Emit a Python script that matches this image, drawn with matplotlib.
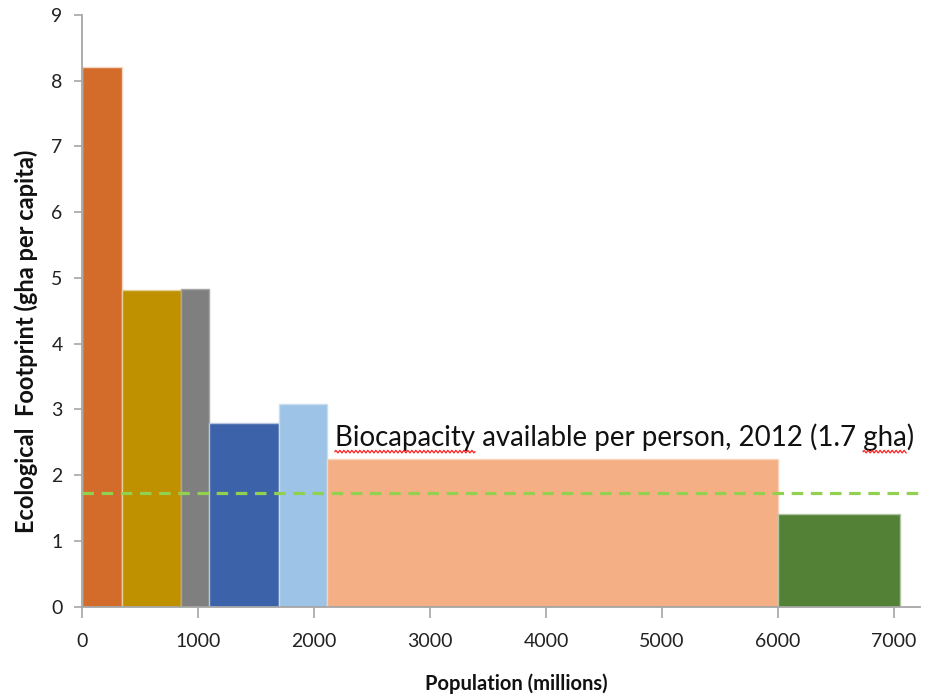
import matplotlib
matplotlib.use("Agg")
import matplotlib.pyplot as plt
import numpy as np

# Data
regions = ["North America", "EU", "Other Europe", "Latin America",
           "Middle East/Central Asia", "Asia-Pacific", "Africa"]
population = [345, 511, 239, 606, 414, 3885, 1050]   # millions (bar widths)
footprint = [8.21, 4.82, 4.83, 2.79, 3.08, 2.25, 1.41]  # gha per capita
colors = ["#D36C2A", "#BF9000", "#7F7F7F", "#3C63A9", "#9DC3E6", "#F4B084", "#538135"]
edgecolors = ["#F4D7C4", "#E6CF99", "#A6A6A6", "#B8C6E0", "#C9DDF0", "#F8D3B9", "#B3C6A6"]
biocapacity = 1.73
bio_label = "Biocapacity available per person, 2012 (1.7 gha)"
xticks = [0, 1000, 2000, 3000, 4000, 5000, 6000, 7000]
yticks = [0, 1, 2, 3, 4, 5, 6, 7, 8, 9]

fam = ["Lato", "DejaVu Sans"]
plt.rcParams["font.family"] = fam

fig = plt.figure(figsize=(9.27, 6.98), dpi=100)
ax = fig.add_axes([82/927, 91.3/698, 838/927, 591.7/698])

lefts = []
acc = 0
for w in population:
    lefts.append(acc)
    acc += w
ax.bar(lefts, footprint, width=population, align="edge", color=colors,
       edgecolor=edgecolors, linewidth=1.0, zorder=2)

ax.axhline(biocapacity, color="#92D050", linewidth=2.3, dashes=(3.6, 2.4), zorder=3)

label_x, label_y, label_fs = 2180, 2.45, 19.9
ax.text(label_x, label_y, bio_label, fontsize=label_fs, color="#111111",
        ha="left", va="baseline", zorder=4)

ax.set_xlim(0, 7224)
ax.set_ylim(0, 9)
ax.set_xticks(xticks)
ax.set_yticks(yticks)

for s in ["top", "right"]:
    ax.spines[s].set_visible(False)
for s in ["left", "bottom"]:
    ax.spines[s].set_color("#A6A6A6")
    ax.spines[s].set_linewidth(1.3)

ax.tick_params(axis="y", direction="out", length=6, width=1.2, color="#A6A6A6",
               labelsize=14, labelcolor="#222222", pad=8)
ax.tick_params(axis="x", direction="out", length=8, width=1.2, color="#A6A6A6",
               labelsize=14, labelcolor="#222222", pad=11)

ax.set_xlabel("Population (millions)", fontsize=14.5, fontweight="bold",
              color="#111111")
ax.set_ylabel("Ecological  Footprint (gha per capita)", fontsize=17,
              fontweight="bold", color="#111111")
ax.xaxis.set_label_coords(0.5185, -0.112)
ax.yaxis.set_label_coords(-0.0525, 0.449)

# spell-check style red wavy underlines (decoration)
fig.canvas.draw()
r = fig.canvas.get_renderer()

def tw(s):
    t = ax.text(0, 0, s, fontsize=label_fs)
    w = t.get_window_extent(r).width
    t.remove()
    return w

bx, by = ax.transData.transform((label_x, label_y))
pieces = [("", "Biocapacity"), ("Biocapacity available per person, 2012 (1.7 ", "gha")]
for prefix, word in pieces:
    start = bx + (tw(prefix + word) - tw(word) if prefix else 0)
    end = start + tw(word)
    xs = np.arange(start, end, 1.0)
    ys = by - 6 + 1.3 * np.sin(2 * np.pi * (xs - start) / 4.0)
    fig.add_artist(plt.Line2D(xs, ys, transform=None, color="#FF2020", lw=0.9))

fig.savefig("out.png", dpi=100)
